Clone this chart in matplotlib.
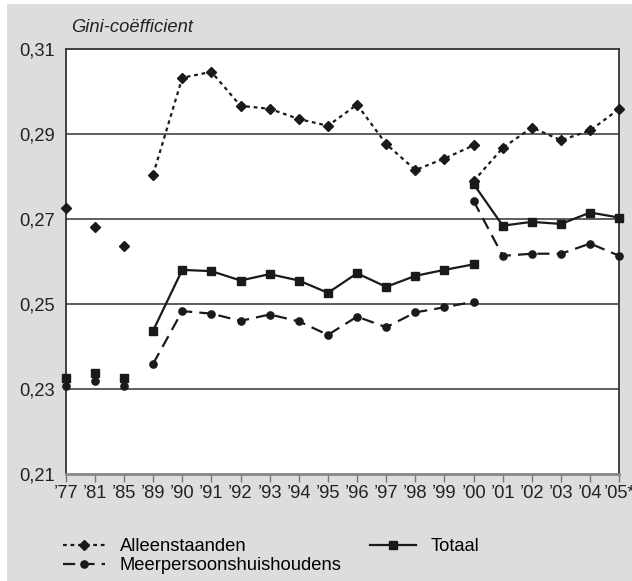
import matplotlib
matplotlib.use("Agg")
import matplotlib.pyplot as plt
import numpy as np
from matplotlib.lines import Line2D
from matplotlib.patches import Rectangle

plt.rcParams['font.family'] = ['Liberation Sans', 'DejaVu Sans']

categories = ["\u201977", "\u201981", "\u201985", "\u201989", "\u201990", "\u201991", "\u201992",
              "\u201993", "\u201994", "\u201995", "\u201996", "\u201997", "\u201998", "\u201999",
              "\u201900", "\u201901", "\u201902", "\u201903", "\u201904", "\u201905*"]

# old series: '77..'00 (first three years are unconnected points)
alleen_old = [0.2726, 0.2683, 0.2638, 0.2805, 0.3033, 0.3047, 0.2967, 0.2960, 0.2936,
              0.2920, 0.2970, 0.2877, 0.2816, 0.2843, 0.2874]
meer_old = [0.2308, 0.2320, 0.2308, 0.2360, 0.2484, 0.2478, 0.2461, 0.2476, 0.2460,
            0.2428, 0.2471, 0.2446, 0.2481, 0.2493, 0.2506]
totaal_old = [0.2326, 0.2338, 0.2327, 0.2438, 0.2581, 0.2578, 0.2556, 0.2571, 0.2556,
              0.2527, 0.2573, 0.2541, 0.2567, 0.2581, 0.2594]
# new series: '00..'05
alleen_new = [0.2790, 0.2868, 0.2916, 0.2886, 0.2909, 0.2960]
meer_new = [0.2743, 0.2614, 0.2619, 0.2619, 0.2643, 0.2614]
totaal_new = [0.2783, 0.2685, 0.2694, 0.2689, 0.2716, 0.2704]

yticks = [0.21, 0.23, 0.25, 0.27, 0.29, 0.31]
ytick_labels = ["0,21", "0,23", "0,25", "0,27", "0,29", "0,31"]

n_unconnected = 3
BG = "#dcdddf"
DARK = "#1a1a1a"
FS = 13.2

fig = plt.figure(figsize=(6.32, 5.81), dpi=100)
fig.patch.set_facecolor("white")
fig.add_artist(Rectangle((7 / 632, 0), 1, 1 - 4 / 581, transform=fig.transFigure,
                         facecolor=BG, edgecolor="none", zorder=-10))

ax = fig.add_axes([65.7 / 632, 1 - 474.3 / 581, (619.3 - 65.7) / 632, (474.3 - 49.3) / 581])
ax.set_facecolor("white")

idx = np.arange(len(categories))
old_idx = idx[:len(alleen_old)]
new_idx = idx[len(alleen_old) - 1:]

styles = {
    "alleen": dict(color=DARK, ls=(0, (1.7, 1.7)), lw=1.6, marker="D", ms=5.2),
    "meer": dict(color=DARK, ls=(0, (5.5, 3.2)), lw=1.6, marker="o", ms=5.2),
    "totaal": dict(color=DARK, ls="-", lw=1.6, marker="s", ms=5.5),
}

for key, old, new in [("alleen", alleen_old, alleen_new),
                      ("meer", meer_old, meer_new),
                      ("totaal", totaal_old, totaal_new)]:
    st = styles[key]
    ax.plot(old_idx[:n_unconnected], old[:n_unconnected], linestyle="none",
            marker=st["marker"], ms=st["ms"], color=st["color"], clip_on=False, zorder=3)
    ax.plot(old_idx[n_unconnected:], old[n_unconnected:], linestyle=st["ls"], lw=st["lw"],
            marker=st["marker"], ms=st["ms"], color=st["color"], clip_on=False, zorder=3)
    ax.plot(new_idx, new, linestyle=st["ls"], lw=st["lw"],
            marker=st["marker"], ms=st["ms"], color=st["color"], clip_on=False, zorder=3)

ax.set_xlim(0, len(categories) - 1)
ax.set_ylim(yticks[0], yticks[-1])
ax.set_xticks(idx)
ax.set_xticklabels(categories, fontsize=FS, color="#222222")
ax.set_yticks(yticks)
ax.set_yticklabels(ytick_labels, fontsize=FS, color="#222222")
ax.tick_params(axis="y", length=0, pad=8)
ax.tick_params(axis="x", length=6, width=1, color="#777777", pad=2)
for y in yticks[1:-1]:
    ax.axhline(y, color="#333333", lw=1.1, zorder=1)

ax.spines["bottom"].set_color("#888888")
ax.spines["bottom"].set_linewidth(2)
for s in ["left", "top", "right"]:
    ax.spines[s].set_color("#333333")
    ax.spines[s].set_linewidth(1.3)

fig.text(71 / 632, 1 - 27 / 581, "Gini-co\u00ebfficient",
         fontsize=FS, style="italic", ha="left", va="center", color="#222222")

h_alleen = Line2D([], [], color=DARK, ls=styles["alleen"]["ls"], lw=1.6, marker="D", ms=5.2)
h_meer = Line2D([], [], color=DARK, ls=styles["meer"]["ls"], lw=1.6, marker="o", ms=5.2)
h_tot = Line2D([], [], color=DARK, ls="-", lw=1.6, marker="s", ms=5.5)

fig.legend([h_alleen, h_meer], ["Alleenstaanden", "Meerpersoonshuishoudens"],
           loc="upper left", bbox_to_anchor=(63 / 632, 1 - 538 / 581), frameon=False,
           fontsize=FS, handlelength=2.3, handletextpad=0.8, labelspacing=0.12,
           borderpad=0, borderaxespad=0)
fig.legend([h_tot], ["Totaal"], loc="upper left", bbox_to_anchor=(370 / 632, 1 - 538 / 581),
           frameon=False, fontsize=FS, handlelength=2.5, handletextpad=0.8,
           borderpad=0, borderaxespad=0)

fig.savefig("out.png", dpi=100, facecolor=fig.get_facecolor())
